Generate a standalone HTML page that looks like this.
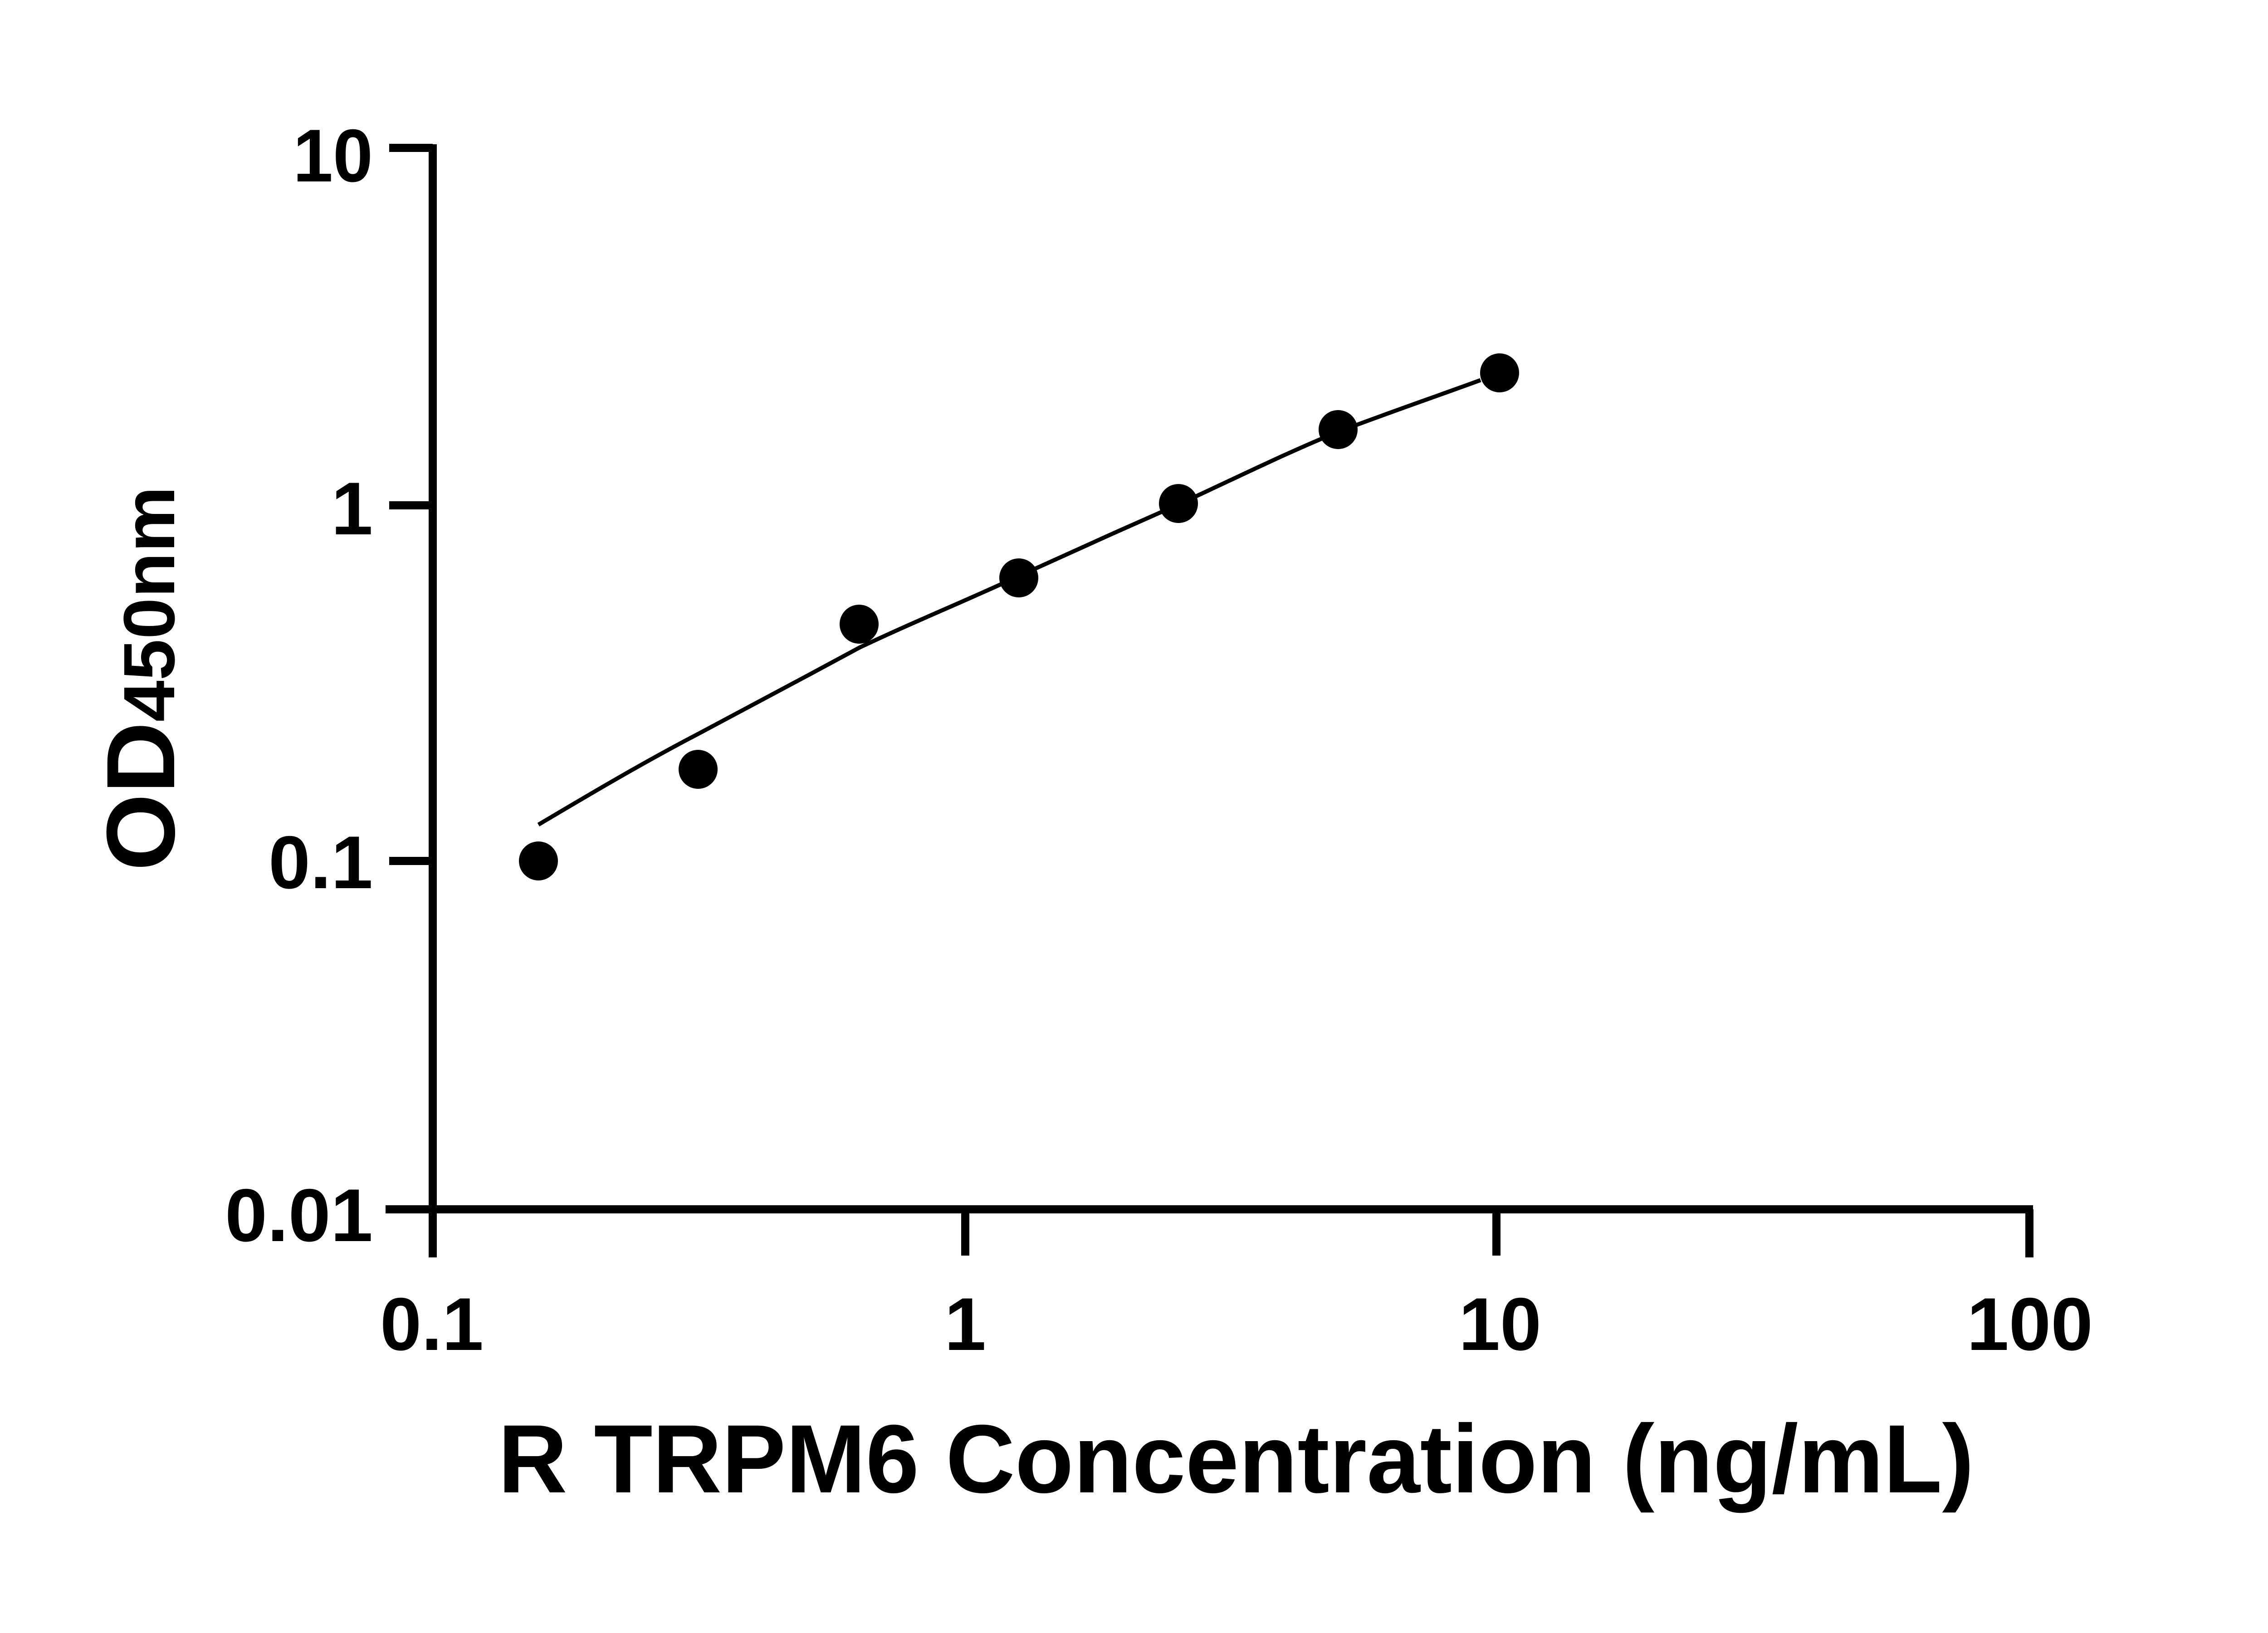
<!DOCTYPE html>
<html><head><style>html,body{margin:0;padding:0;background:#fff}svg{display:block}</style></head>
<body>
<svg width="5130" height="3600" viewBox="0 0 5130 3600" xmlns="http://www.w3.org/2000/svg">
<rect width="5130" height="3600" fill="#fff"/>
<g stroke="#000" stroke-width="18" fill="none">
<line x1="954" y1="318" x2="954" y2="2772"/>
<line x1="850" y1="2666" x2="4482" y2="2666"/>
<line x1="858" y1="326" x2="954" y2="326"/>
<line x1="858" y1="1114" x2="954" y2="1114"/>
<line x1="858" y1="1898" x2="954" y2="1898"/>
<line x1="2128" y1="2666" x2="2128" y2="2768"/>
<line x1="3299" y1="2666" x2="3299" y2="2768"/>
<line x1="4474" y1="2666" x2="4474" y2="2772"/>
</g>
<path d="M1187,1818 C1305,1748 1420,1680 1539,1618 C1657,1555 1776,1492 1894,1428 C2012,1372 2130,1324 2246,1270 C2364,1216 2480,1164 2598,1112 C2716,1058 2832,1000 2950,952 C3055,912 3160,876 3264,838" stroke="#000" stroke-width="9" fill="none"/>
<g fill="#000">
<circle cx="1187" cy="1898" r="43"/>
<circle cx="1539" cy="1696" r="43"/>
<circle cx="1894" cy="1376" r="43"/>
<circle cx="2246" cy="1274" r="43"/>
<circle cx="2598" cy="1110" r="43"/>
<circle cx="2950" cy="947" r="43"/>
<circle cx="3306" cy="822" r="43"/>
</g>
<g font-family="Liberation Sans, sans-serif" font-weight="bold" font-size="165" fill="#000">
<text x="822" y="400" text-anchor="end" textLength="176" lengthAdjust="spacingAndGlyphs">10</text>
<text x="822" y="1178" text-anchor="end">1</text>
<text x="822" y="1958" text-anchor="end" textLength="230" lengthAdjust="spacingAndGlyphs">0.1</text>
<text x="822" y="2736" text-anchor="end" textLength="326" lengthAdjust="spacingAndGlyphs">0.01</text>
<text x="952" y="2976" text-anchor="middle" textLength="228" lengthAdjust="spacingAndGlyphs">0.1</text>
<text x="2128" y="2976" text-anchor="middle">1</text>
<text x="3307" y="2976" text-anchor="middle" textLength="182" lengthAdjust="spacingAndGlyphs">10</text>
<text x="4475" y="2976" text-anchor="middle" textLength="278" lengthAdjust="spacingAndGlyphs">100</text>
<text x="1098" y="3290" font-size="214" textLength="3254" lengthAdjust="spacingAndGlyphs">R TRPM6 Concentration (ng/mL)</text>
<text transform="translate(384,1920) rotate(-90)" font-size="214" textLength="848" lengthAdjust="spacingAndGlyphs">OD<tspan font-size="160">450nm</tspan></text>
</g>
</svg>
</body></html>
